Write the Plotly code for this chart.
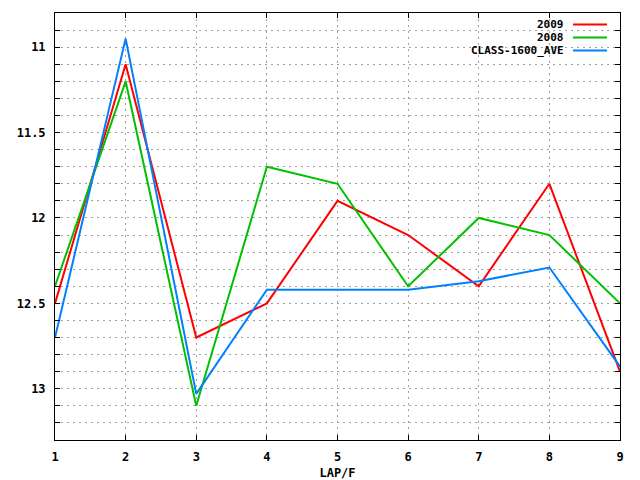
import plotly.graph_objects as go

laps = [1, 2, 3, 4, 5, 6, 7, 8, 9]
times_2009 = [12.5, 11.1, 12.7, 12.5, 11.9, 12.1, 12.4, 11.8, 12.9]
times_2008 = [12.4, 11.2, 13.1, 11.7, 11.8, 12.4, 12.0, 12.1, 12.5]
class_ave = [12.7, 10.95, 13.03, 12.42, 12.42, 12.42, 12.37, 12.29, 12.87]

series = [
    ("2009", times_2009, "#ff0000"),
    ("2008", times_2008, "#00c000"),
    ("CLASS-1600_AVE", class_ave, "#0080ff"),
]

FONT = dict(family="DejaVu Sans Mono", size=12, color="black", weight="bold")
LEG_FONT = dict(family="DejaVu Sans Mono", size=11, color="black", weight="bold")

fig = go.Figure()
for name, vals, color in series:
    fig.add_trace(go.Scatter(x=laps, y=vals, mode="lines", name=name,
                             line=dict(color=color, width=2)))

# gnuplot-style legend: text right aligned, sample line on the right
for i, (name, vals, color) in enumerate(series):
    y = 1 - (11.5 + 13 * i) / 427
    fig.add_annotation(text=name, xref="paper", yref="paper", x=(565 - 55) / 565,
                       y=y, xanchor="right", yanchor="middle", showarrow=False,
                       font=LEG_FONT, borderpad=0)
    fig.add_shape(type="line", xref="paper", yref="paper",
                  x0=(573 - 55) / 565, x1=(607 - 55) / 565, y0=y, y1=y,
                  line=dict(color=color, width=2))

axis_common = dict(
    showline=True, linecolor="black", linewidth=1, mirror="allticks",
    ticks="inside", ticklen=5, tickcolor="black", tickfont=FONT,
    showgrid=True, gridcolor="#a0a0a0", griddash="2px,4px", gridwidth=1,
    zeroline=False, ticklabelstandoff=6, automargin=False,
)

fig.update_layout(
    width=640, height=480,
    margin=dict(l=55, r=20, t=13, b=40),
    paper_bgcolor="white", plot_bgcolor="white",
    showlegend=False,
    font=FONT,
    xaxis=dict(range=[1, 9], dtick=1,
               title=dict(text="LAP/F", font=FONT, standoff=8),
               **axis_common),
    yaxis=dict(range=[13.3, 10.8], tickvals=[11, 11.5, 12, 12.5, 13],
               ticktext=["11", "11.5", "12", "12.5", "13"],
               minor=dict(dtick=0.1, tick0=10.8, ticks="inside", ticklen=5,
                          tickcolor="black", showgrid=True,
                          gridcolor="#a0a0a0", griddash="2px,4px"),
               **axis_common),
)

fig.write_html("out.html", config={"displayModeBar": False},
               post_script="document.body.style.margin='0';")
